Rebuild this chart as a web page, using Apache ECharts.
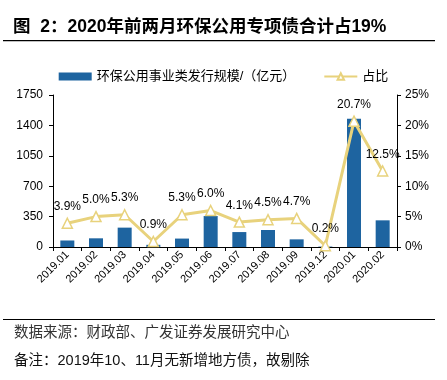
<!DOCTYPE html>
<html><head><meta charset="utf-8">
<script src="https://cdn.jsdelivr.net/npm/echarts@6/dist/echarts.min.js"></script>
<style>html,body{margin:0;padding:0;background:#fff}#c{width:447px;height:380px}</style>
</head><body><div id="c"></div>
<script>
const categories = ['2019.01','2019.02','2019.03','2019.04','2019.05','2019.06','2019.07','2019.08','2019.09','2019.12','2020.01','2020.02'];
const issueValues = [75, 100, 223, 25, 97, 357, 172, 196, 88, 5, 1478, 307];
const shareValues = [3.9, 5.0, 5.3, 0.9, 5.3, 6.0, 4.1, 4.5, 4.7, 0.2, 20.7, 12.5];
const leftTicks = [0, 350, 700, 1050, 1400, 1750];
const rightTicks = [0, 5, 10, 15, 20, 25];
const barName = '环保公用事业类发行规模/（亿元）';
const lineName = '占比';
const titleText = '图  2：2020年前两月环保公用专项债合计占19%';
const sourceText = '数据来源：财政部、广发证券发展研究中心';
const noteText = '备注：2019年10、11月无新增地方债，故剔除';

const FONT = '"Liberation Sans", Arial, "Noto Sans CJK SC", sans-serif';
const chart = echarts.init(document.getElementById('c'));
chart.setOption({
  animation: false,
  textStyle: { fontFamily: FONT },
  grid: { left: 53, right: 50, top: 95, bottom: 133 },
  legend: {
    top: 65, left: 'center', itemGap: 28, itemWidth: 33, itemHeight: 8,
    textStyle: { fontSize: 13, color: '#000', fontFamily: FONT },
    data: [
      { name: barName, icon: 'rect' },
      { name: lineName }
    ]
  },
  graphic: [
    { type: 'text', left: 13, top: 18, style: { text: titleText, font: 'bold 17.5px ' + FONT, fill: '#000' } },
    { type: 'rect', shape: { x: 3, y: 40, width: 432, height: 1.2 }, style: { fill: '#000' } },
    { type: 'rect', shape: { x: 3, y: 319, width: 432, height: 1 }, style: { fill: '#000' } },
    { type: 'text', left: 14, top: 326, style: { text: sourceText, font: '14.5px ' + FONT, fill: '#333' } },
    { type: 'text', left: 14, top: 354, style: { text: noteText, font: '14.5px ' + FONT, fill: '#111' } }
  ],
  xAxis: {
    type: 'category', data: categories, boundaryGap: true,
    axisLine: { lineStyle: { color: '#000', width: 1 } },
    axisTick: { show: true, alignWithLabel: false, length: 4, lineStyle: { color: '#000' } },
    axisLabel: { rotate: 45, fontSize: 11, color: '#000', margin: 6, interval: 0 }
  },
  yAxis: [
    {
      type: 'value', min: 0, max: 1750, interval: 350, position: 'left',
      axisLine: { show: true, lineStyle: { color: '#000' } },
      axisTick: { show: true, length: 4, lineStyle: { color: '#000' } },
      axisLabel: { fontSize: 12, color: '#000', margin: 10,
        formatter: v => leftTicks.includes(v) ? String(v) : '' },
      splitLine: { show: false }
    },
    {
      type: 'value', min: 0, max: 25, interval: 5, position: 'right',
      axisLine: { show: true, lineStyle: { color: '#000' } },
      axisTick: { show: true, length: 4, lineStyle: { color: '#000' } },
      axisLabel: { fontSize: 12, color: '#000', margin: 8,
        formatter: v => rightTicks.includes(v) ? v + '%' : '' },
      splitLine: { show: false }
    }
  ],
  series: [
    {
      name: barName, type: 'bar', yAxisIndex: 0, data: issueValues,
      barWidth: 14, itemStyle: { color: '#1E64A0' }, z: 2
    },
    {
      name: lineName, type: 'line', yAxisIndex: 1, data: shareValues,
      symbol: 'triangle', symbolSize: 10, showAllSymbol: true,
      lineStyle: { color: '#E8D27C', width: 3 },
      itemStyle: { color: '#fff', borderColor: '#E8D27C', borderWidth: 1.5 },
      label: { show: true, position: 'top', distance: 5, fontSize: 12, color: '#000',
        formatter: p => shareValues[p.dataIndex].toFixed(1) + '%' },
      z: 3
    }
  ]
});
</script></body></html>
